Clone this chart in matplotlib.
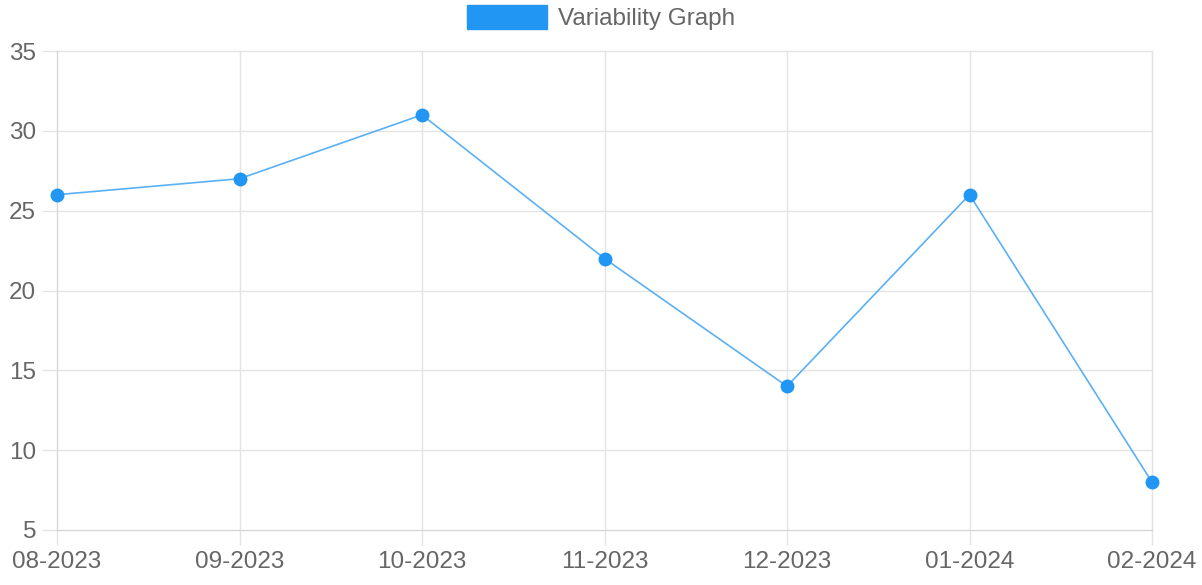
import matplotlib.pyplot as plt
from matplotlib.patches import Patch

months = ['08-2023', '09-2023', '10-2023', '11-2023', '12-2023', '01-2024', '02-2024']
values = [26, 27, 31, 22, 14, 26, 8]

plt.rcParams['font.family'] = ['Liberation Sans', 'DejaVu Sans']

fig = plt.figure(figsize=(12.02, 5.85), dpi=100)
ax = fig.add_axes([57 / 1202, 1 - 530 / 585, (1152 - 57) / 1202, (530 - 51) / 585])

x = list(range(len(months)))
ax.plot(x, values, color='#5ab0f5', lw=1.2, zorder=3)
ax.plot(x, values, 'o', color='#2196f3', ms=9, zorder=4, clip_on=False)

ax.set_xlim(0, len(months) - 1)
ax.set_ylim(5, 35)
ax.set_yticks(range(5, 36, 5))
ax.set_xticks(x)
ax.set_xticklabels(months)

ax.grid(True, color='#e4e4e4', lw=1)
for gl in ax.get_xgridlines() + ax.get_ygridlines():
    gl.set_clip_on(False)
ax.set_axisbelow(True)
ax.spines['top'].set_visible(False)
ax.spines['right'].set_color('#e4e4e4')
for side in ['left', 'bottom']:
    ax.spines[side].set_color('#d6d6d6')
ax.tick_params(axis='both', colors='#e4e4e4', labelcolor='#666666',
               labelsize=17.5, length=11, width=1)
ax.tick_params(axis='y', pad=4)
ax.tick_params(axis='x', pad=4)

leg = fig.legend(handles=[Patch(facecolor='#2196f3', edgecolor='#2196f3', label='Variability Graph')],
                 loc='upper center', bbox_to_anchor=(0.5, 1.028), frameon=False,
                 fontsize=17.5, labelcolor='#666666', handlelength=3.3, handleheight=1.1,
                 handletextpad=0.45)

fig.savefig('out.png', dpi=100)
